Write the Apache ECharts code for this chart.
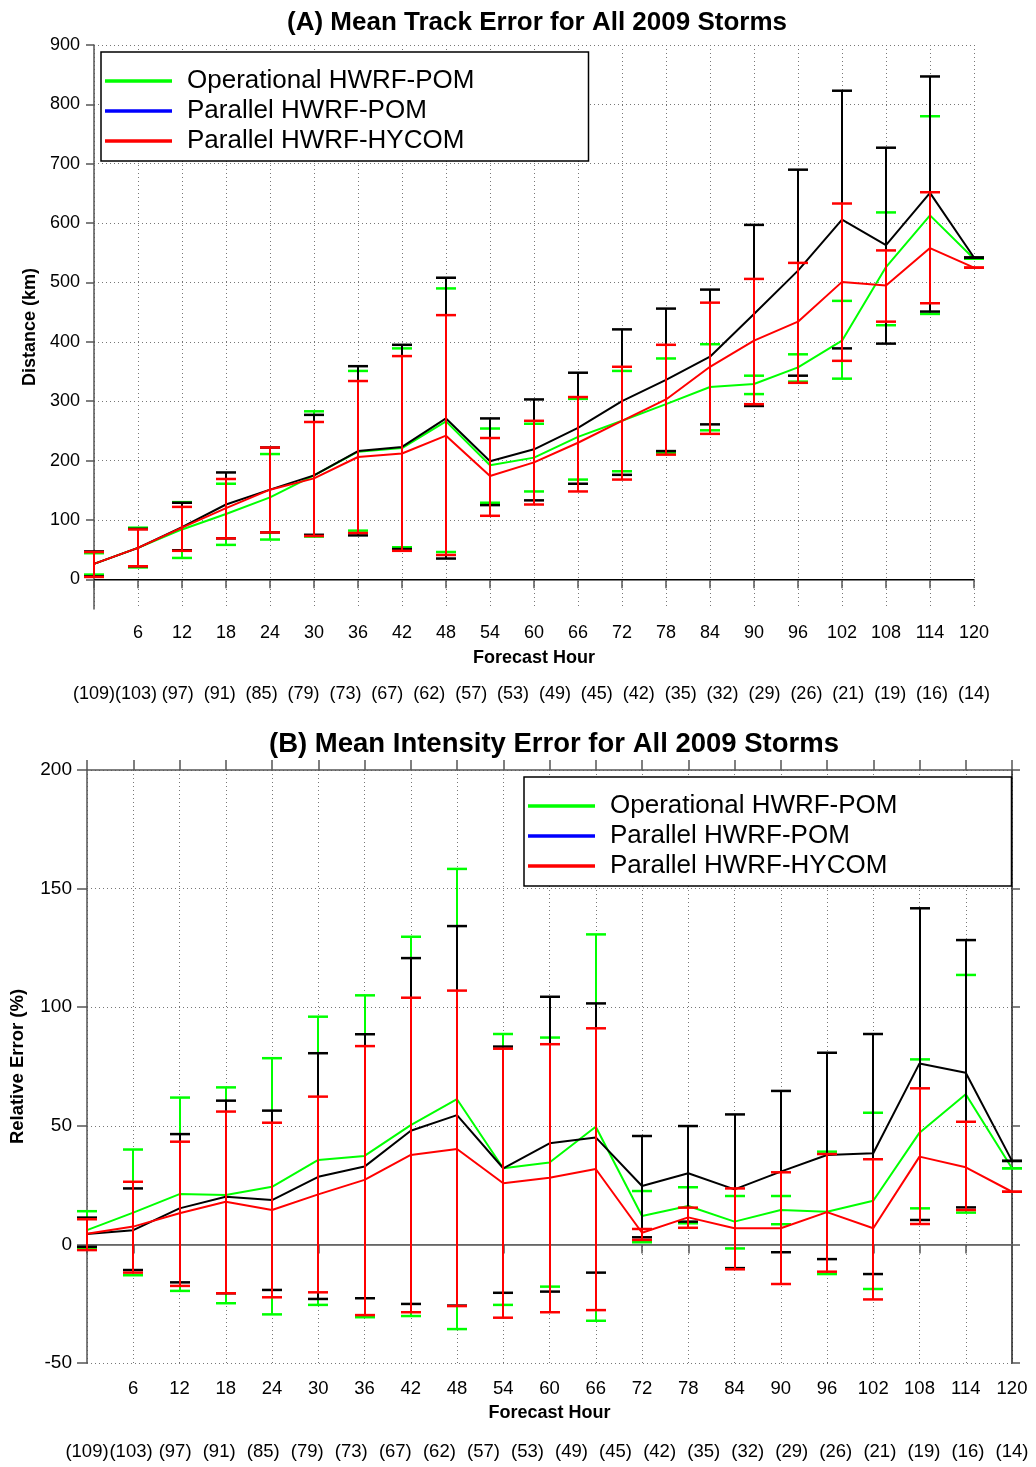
<!DOCTYPE html>
<html>
<head>
    <meta charset="UTF-8">
    <title>Mean Track / Intensity Error 2009</title>
    <script src="https://cdn.jsdelivr.net/npm/echarts@6/dist/echarts.min.js"></script>
    <style>
        html, body { margin: 0; padding: 0; background: #fff; }
        #main { width: 1036px; height: 1467px; }
    </style>
</head>
<body>
    <div id="main"></div>

    <script>
        // forecast hours and number of cases per hour
        const hours = [0, 6, 12, 18, 24, 30, 36, 42, 48, 54, 60, 66, 72, 78, 84, 90, 96, 102, 108, 114, 120];
        const caseCounts = ['(109)', '(103)', '(97)', '(91)', '(85)', '(79)', '(73)', '(67)', '(62)', '(57)', '(53)',
            '(49)', '(45)', '(42)', '(35)', '(32)', '(29)', '(26)', '(21)', '(19)', '(16)', '(14)'];
        const trackTicks = [0, 100, 200, 300, 400, 500, 600, 700, 800, 900];

        // (A) track error, km
        const trackOp     = [26, 53, 84, 110, 138, 175, 215, 221, 266, 192, 205, 240, 267, 295, 324, 329, 357, 402, 526, 613, 540];
        const trackOpLo   = [8, 20, 36, 58, 67, 72, 82, 54, 46, 129, 148, 168, 182, 213, 251, 312, 333, 338, 428, 447, 540];
        const trackOpHi   = [44, 87, 130, 161, 211, 283, 351, 389, 490, 254, 262, 304, 351, 372, 396, 343, 379, 469, 618, 780, 540];
        const trackPom    = [26, 53, 88, 126, 151, 175, 216, 223, 271, 199, 219, 255, 300, 336, 375, 447, 520, 606, 563, 651, 542];
        const trackPomLo  = [5, 22, 49, 69, 79, 75, 74, 51, 35, 125, 133, 161, 176, 216, 261, 292, 343, 389, 397, 451, 542];
        const trackPomHi  = [47, 85, 129, 180, 222, 277, 359, 395, 508, 271, 303, 348, 421, 456, 488, 597, 690, 823, 727, 847, 542];
        const trackHy     = [26, 53, 87, 120, 151, 170, 206, 212, 242, 174, 197, 230, 267, 303, 358, 402, 434, 501, 495, 558, 525];
        const trackHyLo   = [4, 22, 48, 69, 79, 73, 78, 48, 41, 107, 126, 148, 168, 210, 245, 295, 331, 368, 434, 465, 525];
        const trackHyHi   = [46, 84, 122, 169, 222, 265, 334, 376, 445, 238, 267, 307, 358, 395, 466, 506, 533, 633, 554, 652, 525];

        // (B) relative intensity error, %
        const intOp       = [6, 13.4, 21.2, 20.8, 24.3, 35.6, 37.3, 50.3, 61.2, 32.1, 34.5, 49.6, 12, 16.2, 9.6, 14.5, 13.8, 18.4, 47.1, 63.3, 32.1];
        const intOpLo     = [-1.5, -13, -19.6, -24.8, -29.5, -25.5, -30.7, -30.2, -35.7, -25.5, -17.8, -32.2, 0.9, 8.9, -1.7, 8.5, -12.5, -18.8, 15.2, 13.4, 32.1];
        const intOpHi     = [14, 40, 61.9, 66.2, 78.5, 96, 105, 129.7, 158.3, 88.7, 87.2, 130.7, 22.5, 24.1, 20.4, 20.4, 39.1, 55.5, 78, 113.6, 32.1];
        const intPom      = [4.4, 6, 15.2, 20.1, 18.7, 28.5, 32.8, 47.9, 54.5, 32.1, 42.6, 45.1, 24.6, 30, 23.2, 30.7, 37.7, 38.4, 76.3, 72.4, 35.2];
        const intPomLo    = [-1, -10.8, -16, -20.6, -19.2, -23, -22.7, -25.1, -25.8, -20.4, -19.9, -11.9, 3, 9.6, -10, -3.3, -6.2, -12.5, 10.3, 15.6, 35.2];
        const intPomHi    = [11.3, 23.6, 46.5, 60.6, 56.4, 80.6, 88.6, 120.7, 134.2, 83.4, 104.4, 101.6, 45.7, 49.9, 54.8, 64.7, 80.8, 88.7, 141.7, 128.3, 35.2];
        const intHy       = [4.5, 7.5, 13.1, 18, 14.5, 21.1, 27.2, 37.7, 40.2, 25.8, 28.1, 31.8, 4.9, 11.4, 6.8, 6.8, 13.6, 6.8, 37, 32.5, 22.2];
        const intHyLo     = [-2.4, -11.9, -17.5, -20.6, -22.3, -20.2, -29.8, -28.6, -26, -30.9, -28.6, -27.7, 1.9, 7, -10.5, -16.7, -11.5, -23.2, 8.6, 14.5, 22.2];
        const intHyHi     = [10.6, 26.4, 43.3, 56, 51.3, 62.3, 83.6, 104, 107, 82.5, 84.4, 91.1, 6.5, 15.5, 23.6, 30.4, 38.1, 35.9, 65.8, 51.7, 22.2];

        const NAMES = ['Operational HWRF-POM', 'Parallel HWRF-POM', 'Parallel HWRF-HYCOM'];
        const COLORS = ['#00ff00', '#000000', '#ff0000'];
        const LEGEND_COLORS = ['#00ff00', '#0000ff', '#ff0000'];
        const FONT = 'Liberation Sans, Arial, sans-serif';
        const AXIS_GRAY = '#555';
        const GRID_GRAY = '#777';

        // error bar: vertical line + two caps (x snapped to whole pixels so overlaps stay crisp)
        function errorBar(color) {
            return function (params, api) {
                const i = api.value(0);
                const lo = api.coord([i, api.value(1)]);
                const hi = api.coord([i, api.value(2)]);
                const x = Math.round(lo[0]);
                const w = 10;
                return {
                    type: 'group',
                    children: [
                        { type: 'line', shape: { x1: x, y1: lo[1], x2: x, y2: hi[1] }, style: { stroke: color, lineWidth: 2 } },
                        { type: 'line', shape: { x1: x - w, y1: lo[1], x2: x + w, y2: lo[1] }, style: { stroke: color, lineWidth: 2.5 } },
                        { type: 'line', shape: { x1: x - w, y1: hi[1], x2: x + w, y2: hi[1] }, style: { stroke: color, lineWidth: 2.5 } }
                    ]
                };
            };
        }

        function buildSeries(axisIdx, means, los, his, zeroColor) {
            const out = [];
            means.forEach((m, k) => {
                out.push({
                    name: NAMES[k] + ' bars' + axisIdx.y,
                    type: 'custom',
                    xAxisIndex: axisIdx.x, yAxisIndex: axisIdx.y,
                    renderItem: errorBar(COLORS[k]),
                    data: hours.map((h, i) => [i, los[k][i], his[k][i]]),
                    clip: false,
                    z: 10 + k * 2
                });
                const line = {
                    name: NAMES[k],
                    type: 'line',
                    xAxisIndex: axisIdx.x, yAxisIndex: axisIdx.y,
                    data: m,
                    symbol: 'none',
                    lineStyle: { color: COLORS[k], width: 2 },
                    itemStyle: { color: COLORS[k] },
                    z: 11 + k * 2
                };
                if (k === 0) {
                    line.markLine = {
                        silent: true, symbol: 'none',
                        label: { show: false },
                        lineStyle: { color: zeroColor, type: 'solid', width: 1.2 },
                        data: [{ yAxis: 0 }]
                    };
                }
                out.push(line);
            });
            return out;
        }

        function legendFor(left, top) {
            return {
                left: left, top: top,
                orient: 'vertical',
                icon: 'rect',
                itemWidth: 67, itemHeight: 3.5,
                itemGap: 0,
                padding: [14, 114, 5, 4],
                borderColor: '#000', borderWidth: 1.5,
                backgroundColor: '#fff',
                selectedMode: false,
                textStyle: { fontFamily: FONT, fontSize: 26, color: '#000', lineHeight: 30, padding: [0, 0, 0, 10] },
                data: NAMES.map((n, k) => ({ name: n, itemStyle: { color: LEGEND_COLORS[k] } }))
            };
        }

        const dotted = { color: GRID_GRAY, type: [1, 3], width: 1 };

        const chart = echarts.init(document.getElementById('main'), null, { renderer: 'canvas' });
        const option = {
            animation: false,
            backgroundColor: '#fff',
            textStyle: { fontFamily: FONT },
            title: [
                { text: '(A) Mean Track Error for All 2009 Storms', left: 532, top: 5, textAlign: 'center',
                  textStyle: { fontFamily: FONT, fontSize: 26, fontWeight: 'bold', color: '#000' } },
                { text: '(B) Mean Intensity Error for All 2009 Storms', left: 549, top: 725, textAlign: 'center',
                  textStyle: { fontFamily: FONT, fontSize: 27.5, fontWeight: 'bold', color: '#000' } }
            ],
            legend: [legendFor(101, 52), legendFor(524, 777)],
            grid: [
                { left: 94, top: 45, width: 880, height: 564 },
                { left: 87, top: 770, width: 925, height: 593 }
            ],
            xAxis: [
                {   // (A) forecast hour
                    gridIndex: 0, type: 'category', data: hours, boundaryGap: false,
                    name: 'Forecast Hour', nameLocation: 'middle', nameGap: 40,
                    nameTextStyle: { fontFamily: FONT, fontSize: 18, fontWeight: 'bold', color: '#000' },
                    axisLine: { lineStyle: { color: AXIS_GRAY, width: 1.5 } },
                    axisTick: { alignWithLabel: true, length: 9, lineStyle: { color: AXIS_GRAY, width: 1.5 } },
                    axisLabel: { fontFamily: FONT, fontSize: 18, color: '#000', margin: 15, interval: 0,
                                 formatter: (v, i) => (i === 0 ? '' : v) },
                    splitLine: { show: true, lineStyle: dotted }
                },
                {   // (A) case counts
                    gridIndex: 0, type: 'category', data: caseCounts, boundaryGap: false, position: 'bottom', offset: 68,
                    axisLine: { show: false }, axisTick: { show: false }, splitLine: { show: false },
                    axisLabel: { fontFamily: FONT, fontSize: 18, color: '#000', margin: 8, interval: 0 }
                },
                {   // (B) forecast hour
                    gridIndex: 1, type: 'category', data: hours, boundaryGap: false,
                    name: 'Forecast Hour', nameLocation: 'middle', nameGap: 41,
                    nameTextStyle: { fontFamily: FONT, fontSize: 18, fontWeight: 'bold', color: '#000' },
                    axisLine: { lineStyle: { color: AXIS_GRAY, width: 1.5 } },
                    axisTick: { alignWithLabel: true, length: 9, lineStyle: { color: AXIS_GRAY, width: 1.5 } },
                    axisLabel: { fontFamily: FONT, fontSize: 18.5, color: '#000', margin: 16, interval: 0,
                                 formatter: (v, i) => (i === 0 ? '' : v) },
                    splitLine: { show: true, lineStyle: dotted }
                },
                {   // (B) case counts
                    gridIndex: 1, type: 'category', data: caseCounts, boundaryGap: false, position: 'bottom', offset: 71,
                    axisLine: { show: false }, axisTick: { show: false }, splitLine: { show: false },
                    axisLabel: { fontFamily: FONT, fontSize: 18.5, color: '#000', margin: 8, interval: 0 }
                },
                {   // (B) top frame
                    gridIndex: 1, type: 'category', data: hours, boundaryGap: false, position: 'top',
                    axisLine: { lineStyle: { color: AXIS_GRAY, width: 1.5 } },
                    axisTick: { alignWithLabel: true, length: 10, lineStyle: { color: AXIS_GRAY, width: 1.5 } },
                    axisLabel: { show: false }, splitLine: { show: false }
                }
            ],
            yAxis: [
                {
                    gridIndex: 0, type: 'value', min: -50, max: 900,
                    name: 'Distance (km)', nameLocation: 'middle', nameGap: 54, nameRotate: 90,
                    nameTextStyle: { fontFamily: FONT, fontSize: 18, fontWeight: 'bold', color: '#000' },
                    axisLine: { show: true, lineStyle: { color: AXIS_GRAY, width: 1.5 } },
                    axisTick: { show: true, length: 8, customValues: trackTicks, lineStyle: { color: AXIS_GRAY, width: 1.5 } },
                    axisLabel: { fontFamily: FONT, fontSize: 18, color: '#000', margin: 14, customValues: trackTicks },
                    splitLine: { show: true, lineStyle: dotted }
                },
                {
                    gridIndex: 1, type: 'value', min: -50, max: 200, interval: 50,
                    name: 'Relative Error (%)', nameLocation: 'middle', nameGap: 60, nameRotate: 90,
                    nameTextStyle: { fontFamily: FONT, fontSize: 18.5, fontWeight: 'bold', color: '#000' },
                    axisLine: { show: true, lineStyle: { color: AXIS_GRAY, width: 1.5 } },
                    axisTick: { show: true, length: 10, lineStyle: { color: AXIS_GRAY, width: 1.5 } },
                    axisLabel: { fontFamily: FONT, fontSize: 19, color: '#000', margin: 15 },
                    splitLine: { show: true, lineStyle: dotted }
                },
                {   // (B) right frame
                    gridIndex: 1, type: 'value', min: -50, max: 200, interval: 50, position: 'right',
                    axisLine: { show: true, lineStyle: { color: '#222', width: 1.5 } },
                    axisTick: { show: true, length: 8, lineStyle: { color: AXIS_GRAY, width: 1.5 } },
                    axisLabel: { show: false }, splitLine: { show: false }
                }
            ],
            series: [].concat(
                buildSeries({ x: 0, y: 0 },
                    [trackOp, trackPom, trackHy], [trackOpLo, trackPomLo, trackHyLo], [trackOpHi, trackPomHi, trackHyHi], '#000'),
                buildSeries({ x: 2, y: 1 },
                    [intOp, intPom, intHy], [intOpLo, intPomLo, intHyLo], [intOpHi, intPomHi, intHyHi], '#666')
            )
        };

        chart.setOption(option);
    </script>
</body>
</html>
